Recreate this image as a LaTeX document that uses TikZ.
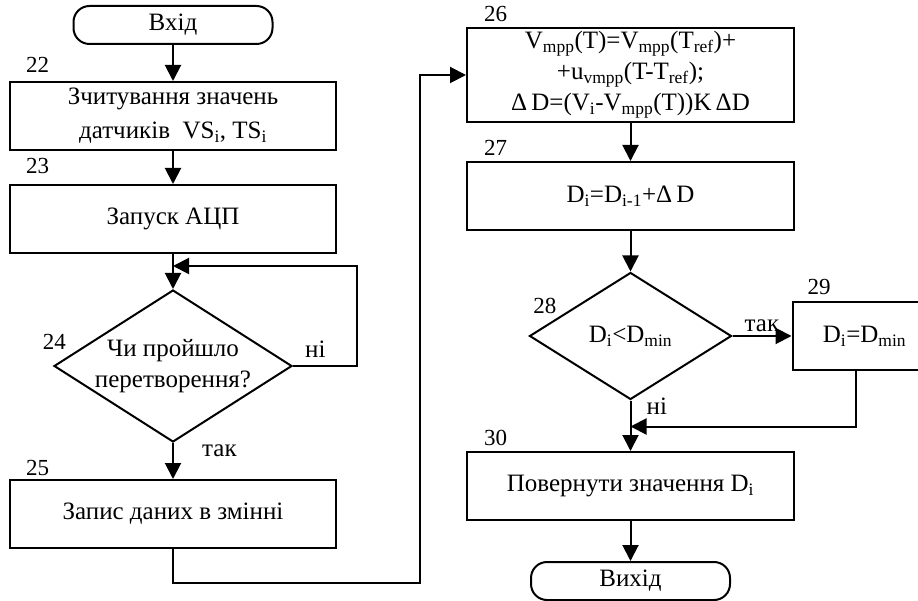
\documentclass[tikz,border=0pt]{standalone}
\usepackage{fontspec}
\setmainfont{Liberation Serif}
\usetikzlibrary{shapes.geometric,arrows.meta,positioning}
\newcommand{\sbs}[1]{\textsubscript{#1}}
\tikzset{block style/.style={
		draw=black,
		line width=2pt,
		rectangle,
		minimum width=326pt,
		minimum height=68pt,
		align=center,
		font=\fontsize{25pt}{31pt}\selectfont,
	},
	term style/.style={
		draw=black,
		line width=2pt,
		rectangle,
		rounded corners=16pt,
		minimum width=199pt,
		minimum height=38pt,
		font=\fontsize{25pt}{31pt}\selectfont,
	},
	cond style/.style={
		draw=black,
		line width=2pt,
		diamond,
		inner sep=0pt,
	},
	text style/.style={
		text=black,
		align=center,
		inner sep=0pt,
		font=\fontsize{25pt}{31pt}\selectfont,
	},
	num style/.style={
		inner sep=0pt,
		font=\fontsize{23pt}{23pt}\selectfont,
	},
	line style/.style={
		line width=2pt,
		-{Triangle[length=16pt,width=16pt]}
	}
}
\begin{document}
\begin{tikzpicture}[x=1pt,y=1pt]
	\useasboundingbox (0,0) rectangle (918,-601);
	% left column
	\node[term style] (In) at (173,-25) {Вхід};
	
	\node[block style, below of=In, node distance=91pt] (Read) {Зчитування значень\\[3pt]датчиків \ VS\sbs{i}, TS\sbs{i}};
	\node[num style, above right=8pt and 17pt of Read.north west] (n22) {22};
	
	\node[block style, below of=Read, node distance=103pt] (Adc) {Запуск АЦП};
	\node[num style, above right=10pt and 17pt of Adc.north west] (n23) {23};
	
	\node[cond style, below of=Adc, node distance=147pt, minimum width=238pt, minimum height=152pt,
		label={[text style]center:Чи пройшло\\перетворення?}] (Done) {};
	\node[num style, anchor=south east] (n24) at ([xshift=13pt,yshift=16pt]Done.west) {24};
	
	\node[block style, below of=Done, node distance=148pt] (Save) {Запис даних в змінні};
	\node[num style, above right=3pt and 17pt of Save.north west] (n25) {25};
	
	% right column
	\node[block style, right of=In, node distance=457.5pt, yshift=-50pt, minimum width=327pt, minimum height=90pt] (Calc)
		{V\sbs{mpp}(T)=V\sbs{mpp}(T\sbs{ref})+\\+u\sbs{vmpp}(T-T\sbs{ref});\\Δ\,D=(V\sbs{i}-V\sbs{mpp}(T))K\,ΔD};
	\node[num style, above right=5pt and 18pt of Calc.north west] (n26) {26};
	
	\node[block style, below of=Calc, node distance=121pt, minimum width=327pt] (Step) {D\sbs{i}=D\sbs{i-1}+Δ\,D};
	\node[num style, above right=5pt and 18pt of Step.north west] (n27) {27};
	
	\node[cond style, below of=Step, node distance=140pt, minimum width=202pt, minimum height=127pt,
		label={[text style]center:D\sbs{i}<D\sbs{min}}] (Cmp) {};
	\node[num style, anchor=south east] (n28) at ([xshift=28pt,yshift=22pt]Cmp.west) {28};
	
	\node[block style, right of=Cmp, node distance=234pt, minimum width=144pt] (Clip) {D\sbs{i}=D\sbs{min}};
	\node[num style, above right=6pt and 16pt of Clip.north west] (n29) {29};
	
	\node[block style, below of=Cmp, node distance=150pt, minimum width=327pt] (Ret) {Повернути значення D\sbs{i}};
	\node[num style, above right=5pt and 18pt of Ret.north west] (n30) {30};
	
	\node[term style, below of=Ret, node distance=95pt] (Out) {Вихід};
	
	% connectors
	\coordinate[below=12pt of Adc.south] (back);
	\coordinate[below=26pt of Cmp.south] (merge);
	\draw[line style] (In) -- (Read);
	\draw[line style] (Read) -- (Adc);
	\draw[line style] (Adc) -- (Done);
	\draw[line style] (Done.east) -- ++(64pt,0) |- (back);
	\draw[line style] (Done) -- (Save);
	\draw[line style] (Save.south) -- ++(0,-34pt) -| ([xshift=-46pt]Calc.west) -- (Calc.west);
	\draw[line style] (Calc) -- (Step);
	\draw[line style] (Step) -- (Cmp);
	\draw[line style] (Cmp) -- (Clip);
	\draw[line style] ([xshift=-9pt]Clip.south) |- (merge);
	\draw[line style] (Cmp) -- (Ret);
	\draw[line style] (Ret) -- (Out);
	
	\node[text style, anchor=south west] (no24) at ([xshift=12pt,yshift=8pt]Done.east) {ні};
	\node[text style, anchor=south west] (yes24) at ([xshift=29pt,yshift=-14pt]Done.south) {так};
	\node[text style, anchor=south west] (yes28) at ([xshift=12pt,yshift=4pt]Cmp.east) {так};
	\node[text style, anchor=south west] (no28) at ([xshift=16pt,yshift=-14pt]Cmp.south) {ні};
\end{tikzpicture}
\end{document}
